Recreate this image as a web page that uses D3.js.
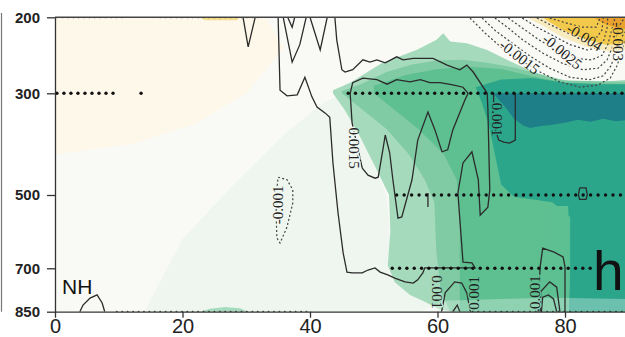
<!DOCTYPE html>
<html>
<head>
<meta charset="utf-8">
<script src="https://cdn.jsdelivr.net/npm/d3@7"></script>
<style>
  html, body { margin: 0; padding: 0; background: #fff; }
  svg { display: block; }
  .tick text { font-family: "Liberation Sans", Arial, sans-serif; fill: #222; }
  .clab { font-family: "Liberation Serif", "DejaVu Serif", serif; font-size: 15px; fill: #222; }
</style>
</head>
<body>
<div id="chart"></div>
<script>
// axis ticks
const latTicks = [0, 20, 40, 60, 80];
const levTicks = [200, 300, 500, 700, 850];

// shaded areas, [latitude, pressure]
const creamPatch = [[0,200],[33,200],[36,240],[30,300],[22,360],[12,400],[0,420]];
const mintPatch = [[14,850],[20,620],[28,480],[36,380],[42,320],[45,300],[48,380],[52,500],[53,700],[57,800],[61,850]];
const greenBump = [[22.7,850],[24.3,840],[26.7,834],[29,838],[30.3,850]];
const shadeA = [[43.6,296],[46.3,286],[51.3,260],[56.7,243],[59.8,230],[60.9,221],[62,232],[64.6,234],[67.8,243],[70.9,256],[75,272],[79.2,282],[82.8,286],[85.5,285],[90,282],
  [90,850],[62.5,850],[60.4,843],[58,816],[55.7,792],[53.3,748],[52.2,692],[52.6,599],[52.4,500],[50.2,444],[47.8,384],[45.5,334],[43.6,300]];
const shadeB = [[45,297],[48,288],[52,272],[56,262],[60,257],[64,256],[68,260],[72,266],[76,275],[80,283],[90,285],
  [90,850],[62,850],[60.5,780],[59.8,650],[59.5,520],[58,470],[55.5,420],[52,370],[48,330],[45,300]];
const shadeC = [[50,290],[55,276],[60,268],[65,265],[70,268],[75,278],[80,286],[90,288],
  [90,850],[63.5,850],[63.5,550],[63,470],[61,420],[57,370],[53,330],[50,300]];
const shadeD = [[66,292],[70,282],[75,280],[80,286],[85,288],[90,288],
  [90,850],[80.6,850],[80.8,700],[80.8,560],[78,520],[72,505],[70,480],[69,420],[68,360],[67,320]];
const shadeStripe = [[77.3,530],[80.5,530],[80.8,700],[80.6,850],[77.8,850],[77.5,700]];
const shadeE = [[68.7,300],[90,300],[90,352],[88,355],[86,350],[84,356],[82,352],[80,358],[78,362],[76,365],[74.5,368],[73.5,364],[72,350],[70.5,325]];
const shadeBottom = [[57,850],[61,812],[70,806],[78,802],[90,806],[90,850]];
const haloPatch = [[74,200],[90,200],[90,242],[87,245],[83.5,239],[79.5,226],[76.5,211]];
const yellowPatch = [[76.5,200],[90,200],[90,234],[89.4,234],[86.6,236],[83.5,230],[79.7,217],[77.5,206]];
const orangePatch = [[84.5,200],[90,200],[90,216],[88,214],[86,208]];
const yellowSpeck = [[22.7,200],[29,200],[28.5,204],[23.5,204]];

// solid contours (positive)
const solidLines = [
  [[29.5,200],[30.3,239],[31.4,200]],
  [[35.8,200],[37.2,259],[38.4,236],[39.4,200]],
  [[36.5,200],[37.2,213],[37.6,200]],
  [[40.0,200],[41.6,243],[42.7,200]],
  [[35.0,200],[35.3,296],[36.4,305],[38.0,303],[39.2,279],[40.3,307],[41.1,327],[42.4,339],[43.1,347],[43.6,437],[44.4,549],[45.2,658],[45.8,713],[46.6,716],[48.2,716],[49.1,706],[50.2,699],[51.0,713],[52.2,723],[53.3,734],[54.9,747],[56.2,751],[56.9,740],[57.7,716],[58.0,699],[65.9,699],[65.4,685],[64.0,683],[63.2,496],[64.0,437],[65.4,415],[66.4,470],[66.7,555],[67.9,533],[68.2,490],[67.9,330],[67.8,300],[65.6,272],[64.6,263],[63.5,269],[61.5,263],[59.3,254],[56.2,254],[54.6,256],[53.6,252],[51.8,260],[50.5,256],[49.4,259],[48.3,256],[46.7,269],[45.5,272],[45.0,269],[44.2,230],[43.9,200]],
  [[48.2,447],[49.1,461],[50.2,467],[50.7,465],[51.5,406],[51.8,382],[52.5,417],[53.0,470],[53.8,563],[54.4,560],[56.0,470],[56.9,392],[58.5,337],[59.6,372],[60.7,415],[61.6,411],[62.4,372],[64.3,313],[64.8,300],[64.0,292],[62.4,289],[60.4,286],[58.8,286],[57.3,282],[55.7,285],[53.6,282],[52.1,288],[50.5,282],[48.3,280],[46.7,286],[46.3,300],[46.6,358],[48.2,447]],
  [[68.8,300],[68.8,360],[69.6,392],[70.4,396],[71.3,398],[72.2,392],[72.2,300]],
  [[60.6,850],[60.7,844],[61.2,785],[62.7,747],[63.8,751],[64.6,785],[65.1,844],[65.2,850]],
  [[62.4,850],[63.1,827],[63.5,850]],
  [[75.8,850],[76.0,740],[76.1,696],[76.5,645],[78.3,656],[79.7,669],[80.0,696],[80.0,850]],
  [[76.1,850],[76.2,780],[77.6,747],[78.7,765],[79.2,850]],
  [[76.3,850],[76.5,800],[77.4,792],[78.2,806],[78.7,850]],
  [[58.5,496],[58.5,533]],
  [[82.3,486],[83.3,486],[83.5,500],[83.3,512],[82.3,512],[82.1,500],[82.3,486]],
  [[3.9,850],[4.4,827],[5.5,803],[6.6,792],[7.4,820],[7.8,850]]
];

// dashed contours (negative)
const dashedLines = [
  [[35.0,465],[36.4,470],[37.3,490],[37.3,522],[36.4,587],[35.3,631],[34.8,617],[34.7,555],[34.7,500],[35.0,465]],
  [[65.1,201],[67.5,221],[69.8,238],[72.9,256],[76.1,272],[79.2,285],[82.4,292],[85.2,289],[87.1,280],[88.2,263],[88.9,243],[89.4,230]],
  [[67.0,201],[69.0,217],[71.4,232],[74.5,251],[77.6,267],[80.8,279],[83.9,282],[86.0,277],[87.2,264],[88.0,246],[88.6,230],[89.4,219]],
  [[69.0,201],[71.1,214],[73.4,230],[76.5,247],[79.7,261],[82.8,269],[85.2,267],[86.6,256],[87.4,240],[88.0,225],[88.6,210],[89.3,201]],
  [[71.1,201],[73.3,214],[75.8,229],[78.6,243],[81.6,254],[84.2,256],[85.8,250],[86.7,236],[87.2,221],[87.7,206],[87.8,201]],
  [[73.3,201],[75.6,213],[78.1,224],[80.8,236],[83.5,243],[85.2,240],[86.1,230],[86.6,214],[86.7,201]],
  [[75.6,201],[78.0,211],[80.5,221],[83.1,227],[85.0,226],[85.8,217],[86.0,201]],
  [[77.6,201],[80.0,207],[82.7,213],[84.9,213],[85.5,201]]
];

// contour labels: text, latitude, pressure, angle
const contourLabels = [
  ["0.0015", 46.9, 408, 90],
  ["0.001", 69.3, 352, 90],
  ["0.001", 59.9, 782, 90],
  ["0.001", 65.7, 785, -90],
  ["0.001", 75.3, 782, -90],
  ["-0.001", 35.0, 527, -90],
  ["-0.0015", 72.9, 252, 38],
  ["-0.0025", 79.6, 245, 40],
  ["-0.004", 83.1, 226, 32],
  ["-0.003", 88.4, 232, 90]
];

// significance stippling rows: pressure, from lat, to lat, step
const stippleRows = [
  [200, 0.3, 11.3, 0.85],
  [200, 16.5, 31.8, 0.85],
  [300, 0.3, 9.2, 1.1],
  [300, 13.5, 13.5, 1.1],
  [300, 46.0, 90, 1.13],
  [500, 53.6, 90, 1.17],
  [700, 52.9, 84.2, 1.15],
  [850, 9.7, 40.0, 0.85],
  [850, 65.5, 90, 0.9]
];

const W = 625, H = 337;
const x = d3.scaleLinear().domain([0, 90]).range([55, 628.75]);
const y = d3.scaleLinear().domain(levTicks).range([17.3, 93.3, 195, 268.3, 311.7]);
const line = d3.line().x(d => x(d[0])).y(d => y(d[1]));

const svg = d3.select("#chart").append("svg")
    .attr("width", W)
    .attr("height", H);

const defs = svg.append("defs");
defs.append("clipPath").attr("id", "plotclip")
  .append("rect")
    .attr("x", x(0)).attr("y", y(200))
    .attr("width", x(90) - x(0)).attr("height", y(850) - y(200));

// mask so contour lines break under their labels
const mask = defs.append("mask").attr("id", "labmask")
    .attr("maskUnits", "userSpaceOnUse")
    .attr("x", 0).attr("y", 0).attr("width", W).attr("height", H);
mask.append("rect").attr("width", W).attr("height", H).attr("fill", "#fff");

const plot = svg.append("g").attr("clip-path", "url(#plotclip)");

plot.append("rect")
    .attr("x", x(0)).attr("y", y(200))
    .attr("width", x(90) - x(0)).attr("height", y(850) - y(200))
    .attr("fill", "#f9faf5");

const fills = [
  [creamPatch, "#fdf8ea", 1],
  [mintPatch, "#eff6f0", 1],
  [greenBump, "#a6dbbd", 1],
  [shadeA, "#a6dabc", 1],
  [shadeB, "#80cba3", 1],
  [shadeC, "#5ebf91", 1],
  [shadeD, "#2ca68b", 1],
  [shadeStripe, "#5cc093", 1],
  [shadeE, "#1f7f88", 1],
  [shadeBottom, "#ffffff", 0.3],
  [haloPatch, "#f9ebc0", 1],
  [yellowPatch, "#f3c94b", 1],
  [orangePatch, "#e9a12d", 1],
  [yellowSpeck, "#f6df8f", 1]
];
plot.selectAll("path.fill")
  .data(fills)
  .join("path")
    .attr("class", "fill")
    .attr("d", d => line(d[0]) + "Z")
    .attr("fill", d => d[1])
    .attr("fill-opacity", d => d[2])
    .attr("stroke", "none");

const lines = plot.append("g").attr("mask", "url(#labmask)");
lines.selectAll("path.solid")
  .data(solidLines)
  .join("path")
    .attr("class", "solid")
    .attr("d", line)
    .attr("fill", "none")
    .attr("stroke", "#2b2b2b")
    .attr("stroke-width", 1.3);
lines.selectAll("path.dash")
  .data(dashedLines)
  .join("path")
    .attr("class", "dash")
    .attr("d", line)
    .attr("fill", "none")
    .attr("stroke", "#444")
    .attr("stroke-width", 1.2)
    .attr("stroke-dasharray", "2,2.2");

// stippling
const dots = [];
stippleRows.forEach(r => {
  d3.range(r[1], r[2] + 0.01, r[3]).forEach(lat => dots.push([lat, r[0], r[3] < 1 ? 1.0 : 1.7]));
});
plot.selectAll("circle.dot")
  .data(dots)
  .join("circle")
    .attr("class", "dot")
    .attr("cx", d => x(d[0]))
    .attr("cy", d => y(d[1]))
    .attr("r", d => d[2])
    .attr("fill", "#111");

// labels and their knock-out copies in the mask
const labPos = d => "translate(" + x(d[1]) + "," + y(d[2]) + ") rotate(" + d[3] + ")";
mask.selectAll("text")
  .data(contourLabels)
  .join("text")
    .attr("class", "clab")
    .attr("transform", labPos)
    .attr("text-anchor", "middle")
    .attr("dy", "0.35em")
    .attr("fill", "#000")
    .attr("stroke", "#000")
    .attr("stroke-width", 3)
    .text(d => d[0]);
plot.selectAll("text.clab")
  .data(contourLabels)
  .join("text")
    .attr("class", "clab")
    .attr("transform", labPos)
    .attr("text-anchor", "middle")
    .attr("dy", "0.35em")
    .text(d => d[0]);

// axes
const xAxis = svg.append("g")
    .attr("transform", "translate(0," + y(850) + ")")
    .call(d3.axisBottom(x).tickValues(latTicks).tickSizeInner(6).tickSizeOuter(0).tickPadding(1));
xAxis.selectAll("text").style("font-size", "20px");

const yAxis = svg.append("g")
    .attr("transform", "translate(" + x(0) + ",0)")
    .call(d3.axisLeft(y).tickValues(levTicks).tickSizeInner(8).tickSizeOuter(0).tickPadding(7));
yAxis.selectAll("text").style("font-size", "15px").style("font-weight", "bold");

svg.selectAll(".domain, .tick line").attr("stroke", "#333").attr("stroke-width", 1.3);

// top spine
svg.append("line")
    .attr("x1", x(0)).attr("x2", W)
    .attr("y1", y(200)).attr("y2", y(200))
    .attr("stroke", "#444").attr("stroke-width", 1.6);

// edge of the neighbouring panel
svg.append("line")
    .attr("x1", 1.5).attr("x2", 1.5)
    .attr("y1", 13).attr("y2", y(850))
    .attr("stroke", "#777").attr("stroke-width", 1.2);

svg.append("text")
    .attr("x", x(1.1)).attr("y", y(790))
    .style("font-family", "Liberation Sans, Arial, sans-serif")
    .style("font-size", "21px")
    .attr("fill", "#111")
    .text("NH");

svg.append("text")
    .attr("x", x(84.4)).attr("y", y(775))
    .style("font-family", "Liberation Sans, Arial, sans-serif")
    .style("font-size", "55px")
    .attr("fill", "#111")
    .text("h");
</script>
</body>
</html>
